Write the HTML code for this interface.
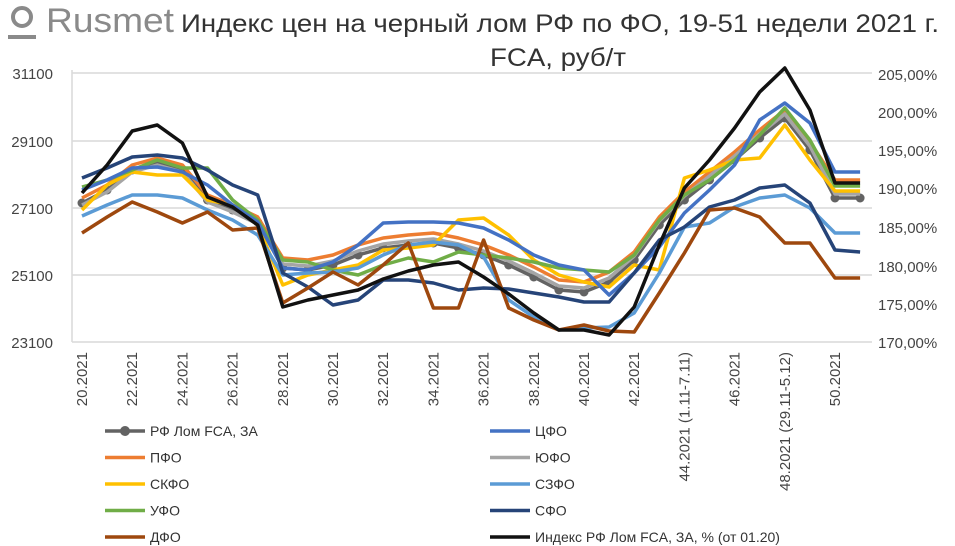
<!DOCTYPE html>
<html><head><meta charset="utf-8"><style>
body{margin:0;background:#fff;}
svg{display:block;font-family:"Liberation Sans","DejaVu Sans",sans-serif;}
</style></head><body>
<svg id="s" width="955" height="546" viewBox="0 0 955 546" xmlns="http://www.w3.org/2000/svg">
<rect width="955" height="546" fill="#fff"/>
<circle cx="22" cy="17" r="9" fill="none" stroke="#8a8a8a" stroke-width="4"/>
<rect x="8" y="35" width="28" height="4" fill="#8a8a8a"/>
<text x="46" y="32" font-size="34" fill="#8a8a8a" textLength="128" lengthAdjust="spacingAndGlyphs">Rusmet</text>
<text x="181" y="32" font-size="25" fill="#333" textLength="758" lengthAdjust="spacingAndGlyphs">Индекс цен на черный лом РФ по ФО, 19-51 недели 2021 г.</text>
<text x="490" y="66" font-size="25" fill="#333" textLength="136" lengthAdjust="spacingAndGlyphs">FCA, руб/т</text>
<g stroke="#d9d9d9" stroke-width="1.5">
<line x1="72" y1="73" x2="872" y2="73"/><line x1="72" y1="141" x2="872" y2="141"/>
<line x1="72" y1="208" x2="872" y2="208"/><line x1="72" y1="275" x2="872" y2="275"/>
<line x1="72" y1="342" x2="872" y2="342"/><line x1="72" y1="70" x2="72" y2="342"/>
</g>
<g font-size="15" fill="#444" text-anchor="end">
<text x="53" y="79">31100</text><text x="53" y="147">29100</text><text x="53" y="214">27100</text><text x="53" y="281">25100</text><text x="53" y="348">23100</text>
</g>
<g font-size="15" fill="#444">
<text x="878" y="80">205,00%</text><text x="878" y="118">200,00%</text><text x="878" y="156">195,00%</text><text x="878" y="194">190,00%</text><text x="878" y="233">185,00%</text><text x="878" y="272">180,00%</text><text x="878" y="310">175,00%</text><text x="878" y="348">170,00%</text>
</g>
<g id="series" fill="none" stroke-width="3.5" stroke-linejoin="round"></g>
<g id="xl" font-size="15" fill="#444"></g>
<g id="leg" font-size="14" fill="#333"></g>
</svg>
<script>
var X=function(i){return 82+25.1*i;};
var grey=[203,190,170,163,170,200,210,222,268,270,265,255,248,245,243,248,255,265,277,290,292,282,260,225,200,180,160,138,118,150,198,198];
function off(a,d){return a.map(function(v,i){return v+(typeof d==='function'?d(i):d);});}
var S=[
['#ED7D31',off(grey,function(i){return i<8?-5:(i<22?-10:-8)+(i>=30?-10:0);})],
['#A5A5A5',off(grey,function(i){return i<8?2:(i<22?-4:-4);})],
['#FFC000',[210,185,172,175,175,200,205,225,285,275,270,265,250,248,245,220,218,235,260,275,282,287,265,270,178,170,160,158,125,160,191,191]],
['#70AD47',[187,180,170,160,168,168,200,220,260,262,270,275,265,258,262,252,255,258,262,268,270,272,255,220,195,180,160,135,108,140,186,186]],
['#4472C4',[190,180,168,167,172,185,205,222,268,270,262,245,223,222,222,223,228,240,255,265,270,295,273,247,213,190,165,120,103,123,172,172]],
['#5B9BD5',[216,205,195,195,198,210,220,235,275,273,272,268,255,245,242,245,257,300,317,330,328,327,313,273,227,223,207,198,195,208,233,233]],
['#264478',[178,168,157,155,158,170,185,195,273,287,305,300,280,280,283,290,288,289,293,297,302,302,273,240,227,207,200,188,185,203,250,252]],
['#9E480E',[233,217,202,212,223,212,230,228,303,288,272,285,265,243,308,308,240,308,320,330,325,331,332,293,253,210,208,217,243,243,278,278]],
['#111',[193,165,131,125,143,197,207,225,307,300,295,290,279,271,265,262,277,294,313,330,330,335,307,245,188,160,128,92,68,110,183,183]]
];
var g=document.getElementById('series'),ns='http://www.w3.org/2000/svg';
function pl(c,a,w){var p=document.createElementNS(ns,'polyline');p.setAttribute('points',a.map(function(v,i){return X(i)+','+v;}).join(' '));p.setAttribute('stroke',c);if(w)p.setAttribute('stroke-width',w);g.appendChild(p);}
pl('#636363',grey);
grey.forEach(function(v,i){var c=document.createElementNS(ns,'circle');c.setAttribute('cx',X(i));c.setAttribute('cy',v);c.setAttribute('r',4.5);c.setAttribute('fill','#636363');c.setAttribute('stroke','none');g.appendChild(c);});
S.forEach(function(s){pl(s[0],s[1]);});
var labs=['20.2021','22.2021','24.2021','26.2021','28.2021','30.2021','32.2021','34.2021','36.2021','38.2021','40.2021','42.2021','44.2021 (1.11-7.11)','46.2021','48.2021 (29.11-5.12)','50.2021'];
var xl=document.getElementById('xl');
labs.forEach(function(t,k){var x=X(2*k)+5;var e=document.createElementNS(ns,'text');e.setAttribute('transform','translate('+x+',352) rotate(-90)');e.setAttribute('text-anchor','end');e.textContent=t;xl.appendChild(e);});
var L=[['РФ Лом FCA, ЗА','#636363',1],['ЦФО','#4472C4'],['ПФО','#ED7D31'],['ЮФО','#A5A5A5'],['СКФО','#FFC000'],['СЗФО','#5B9BD5'],['УФО','#70AD47'],['СФО','#264478'],['ДФО','#9E480E'],['Индекс РФ Лом FCA, ЗА, % (от 01.20)','#111']];
var lg=document.getElementById('leg');
L.forEach(function(l,k){var col=k%2,row=Math.floor(k/2);var x0=col?490:105,y=431+row*26.5;
var ln=document.createElementNS(ns,'line');ln.setAttribute('x1',x0);ln.setAttribute('x2',x0+40);ln.setAttribute('y1',y);ln.setAttribute('y2',y);ln.setAttribute('stroke',l[1]);ln.setAttribute('stroke-width',3.5);lg.appendChild(ln);
if(l[2]){var c=document.createElementNS(ns,'circle');c.setAttribute('cx',x0+20);c.setAttribute('cy',y);c.setAttribute('r',5);c.setAttribute('fill',l[1]);lg.appendChild(c);}
var t=document.createElementNS(ns,'text');t.setAttribute('x',x0+45);t.setAttribute('y',y+5);t.textContent=l[0];lg.appendChild(t);});
</script>
</body></html>
